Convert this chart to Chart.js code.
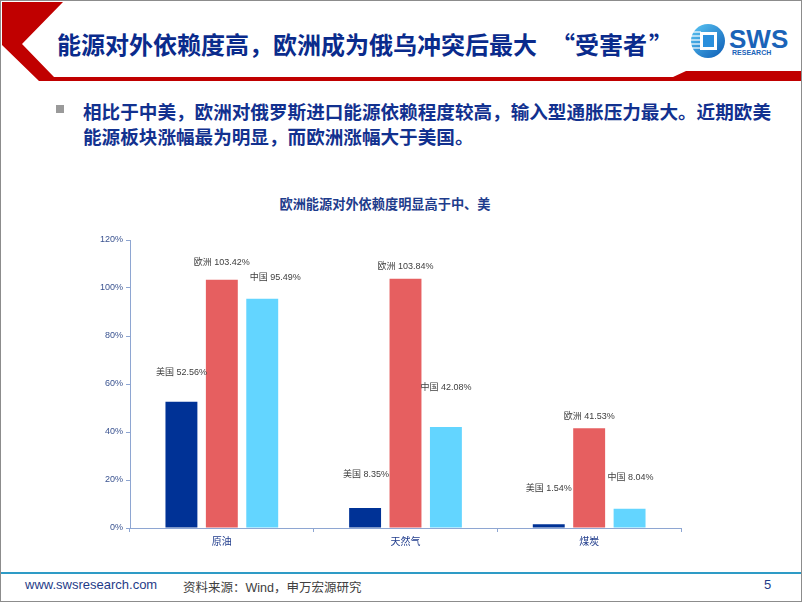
<!DOCTYPE html>
<html>
<head>
<meta charset="utf-8">
<script src="https://cdn.jsdelivr.net/npm/chart.js@4.4.1/dist/chart.umd.min.js"></script>
<style>
  html, body { margin: 0; padding: 0; background: #fff; }
  #slide {
    position: relative; width: 800px; height: 600px;
    border: 1px solid #8c8c8c; background: #fff; overflow: hidden;
    font-family: "Liberation Sans", "Noto Sans CJK SC", sans-serif;
  }
  .abs { position: absolute; white-space: nowrap; }
  #title {
    left: 56px; top: 26px; font-size: 24px; line-height: 34px; font-weight: bold;
    color: #0a2b8c; font-family: "Noto Sans CJK SC", sans-serif;
  }
  .ql { margin-left: 14px; }
  .qr { margin-left: 2px; }
  #bullet { left: 55px; top: 104px; width: 8px; height: 8px; background: #9a9a9a; }
  #body {
    left: 82px; top: 97px; font-size: 18.6px; line-height: 25px; font-weight: bold;
    color: #12318f; font-family: "Noto Sans CJK SC", sans-serif;
  }
  #ctitle {
    left: 278px; top: 193px; width: 212px; text-align: center; font-size: 13.2px; font-weight: bold;
    color: #1e3c8c; font-family: "Noto Sans CJK SC", sans-serif;
  }
  #box { position: absolute; left: 60px; top: 220px; width: 640px; height: 340px; }
  #footline { left: 0; top: 571px; width: 800px; height: 2px; background: #2e9bc6; }
  #url { left: 24px; top: 576px; font-size: 13px; color: #1f3c88; }
  #src { left: 182px; top: 576px; font-size: 12.5px; color: #404040; }
  #page { left: 763px; top: 576px; font-size: 13px; color: #1f3c88; }
</style>
</head>
<body>
<div id="slide">
  <svg class="abs" style="left:0;top:0" width="800" height="90">
    <polygon points="1,1 62,1 21,43 53,76 672,76 685,70 800,70 800,80 38,80 1,44" fill="#c00000"/>
    <defs>
      <linearGradient id="lg" x1="0" y1="0" x2="1" y2="1">
        <stop offset="0" stop-color="#5cc8f5"/>
        <stop offset="1" stop-color="#0b5bb5"/>
      </linearGradient>
    </defs>
    <circle cx="707" cy="40" r="17" fill="url(#lg)"/>
    <g stroke="#fff" stroke-width="1.2">
      <line x1="689" y1="31" x2="700" y2="31"/>
      <line x1="689" y1="35" x2="700" y2="35"/>
      <line x1="689" y1="39" x2="700" y2="39"/>
      <line x1="689" y1="43" x2="700" y2="43"/>
      <line x1="689" y1="47" x2="700" y2="47"/>
    </g>
    <rect x="699" y="31" width="17" height="18" fill="#fff"/>
    <rect x="702" y="34" width="11" height="12" fill="#2a8fdc"/>
    <text x="728" y="47" font-family="Liberation Sans, sans-serif" font-weight="bold" font-size="26" fill="#1a63b8">SWS</text>
    <text x="731" y="54" font-family="Liberation Sans, sans-serif" font-weight="bold" font-size="7" fill="#1a63b8">RESEARCH</text>
  </svg>
  <div id="title" class="abs">能源对外依赖度高，欧洲成为俄乌冲突后最大<span class="ql">“</span>受害者<span class="qr">”</span></div>
  <div id="bullet" class="abs"></div>
  <div id="body" class="abs">相比于中美，欧洲对俄罗斯进口能源依赖程度较高，输入型通胀压力最大。近期欧美<br>能源板块涨幅最为明显，而欧洲涨幅大于美国。</div>
  <div id="ctitle" class="abs">欧洲能源对外依赖度明显高于中、美</div>
  <div id="box"><canvas id="c"></canvas></div>
  <div id="footline" class="abs"></div>
  <div id="url" class="abs">www.swsresearch.com</div>
  <div id="src" class="abs">资料来源：Wind，申万宏源研究</div>
  <div id="page" class="abs">5</div>
</div>
<script>
const categories = ["原油", "天然气", "煤炭"]
const seriesNames = ["美国", "欧洲", "中国"]
const usValues = [52.56, 8.35, 1.54]
const euValues = [103.42, 103.84, 41.53]
const cnValues = [95.49, 42.08, 8.04]
const yTicks = [0, 20, 40, 60, 80, 100, 120]

// hand-placed label nudges (px above bar top / sideways), like the original
const labelLift = [[29, 33, 36], [17, 12, 12], [21, 39, 31]]
const labelShift = [[0, 1, 0], [0, 0, 0], [13, 0, 1]]

const colors = ["#003296", "#e65f60", "#63d5ff"]
const axisColor = "#8ea6d2"
const fontFam = "'Liberation Sans', 'Noto Sans CJK SC', sans-serif"

const barLabels = {
  id: "barLabels",
  afterDatasetsDraw(chart) {
    const ctx = chart.ctx
    ctx.save()
    ctx.font = "9px " + fontFam
    ctx.fillStyle = "#404040"
    ctx.textAlign = "center"
    ctx.textBaseline = "middle"
    chart.data.datasets.forEach((ds, i) => {
      chart.getDatasetMeta(i).data.forEach((bar, j) => {
        const txt = `${ds.label} ${ds.data[j].toFixed(2)}%`
        ctx.fillText(txt, bar.x + labelShift[i][j], bar.y - labelLift[i][j])
      })
    })
    ctx.restore()
  }
}

new Chart(document.getElementById("c"), {
  type: "bar",
  data: {
    labels: categories,
    datasets: [usValues, euValues, cnValues].map((vals, i) => ({
      label: seriesNames[i],
      data: vals,
      backgroundColor: colors[i],
      categoryPercentage: 0.66,
      barPercentage: 0.79
    }))
  },
  options: {
    responsive: true,
    maintainAspectRatio: false,
    animation: false,
    layout: { padding: { top: 19, right: 20, bottom: 0, left: 0 } },
    plugins: { legend: { display: false }, tooltip: { enabled: false } },
    scales: {
      x: {
        afterFit: s => { s.height = 33 },
        grid: { drawOnChartArea: false, color: axisColor, tickLength: 4 },
        border: { color: axisColor },
        ticks: { color: "#203c8c", font: { size: 10, family: fontFam }, padding: 4 }
      },
      y: {
        min: 0, max: 120,
        afterFit: s => { s.width = 69 },
        afterBuildTicks: s => { s.ticks = yTicks.map(v => ({ value: v })) },
        grid: { drawOnChartArea: false, color: axisColor, tickLength: 4 },
        border: { color: axisColor },
        ticks: { color: "#3a5390", font: { size: 9, family: fontFam }, padding: 3, callback: v => v + "%" }
      }
    }
  },
  plugins: [barLabels]
})
</script>
</body>
</html>
